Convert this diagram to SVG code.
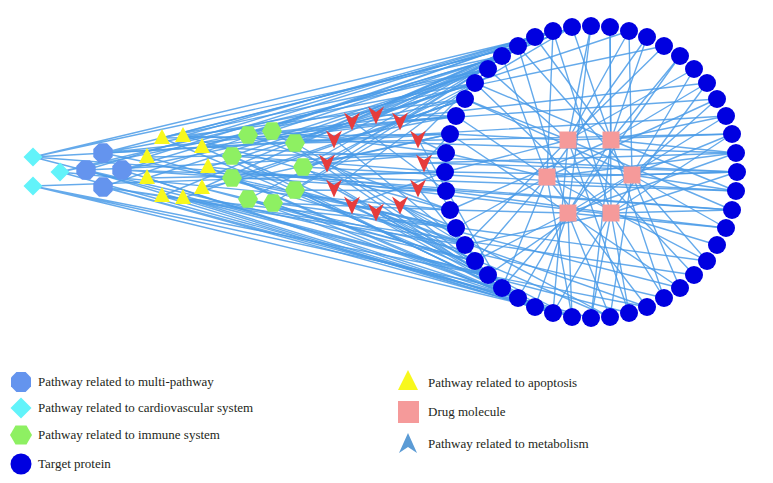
<svg xmlns="http://www.w3.org/2000/svg" xmlns:xlink="http://www.w3.org/1999/xlink" width="773" height="483" viewBox="0 0 773 483">
<style>
.e{fill:none;stroke:#4a9be8;stroke-width:1.4;stroke-opacity:0.85}
.t{fill:#0000e0}
.oct{fill:#6494ee}
.dia{fill:#62f3fa}
.hex{fill:#8ef062}
.tri{fill:#f8f81c}
.drug{fill:#f59a9a}
.chev{fill:#e63c3c}
.lg{font-family:"Liberation Serif",serif;font-size:13px;fill:#231f20}
</style>
<defs>
<polygon id="oct" points="9.7,4 4,9.7 -4,9.7 -9.7,4 -9.7,-4 -4,-9.7 4,-9.7 9.7,-4"/>
<polygon id="dia" points="0,-9.5 9.5,0 0,9.5 -9.5,0"/>
<polygon id="hex" points="10,0 5,8.7 -5,8.7 -10,0 -5,-8.7 5,-8.7"/>
<polygon id="tri" points="0,-9 8,6 -8,6"/>
<polygon id="chev" points="-8,-8.5 0,-3 8,-8.5 0,9.5"/>
<rect id="drug" x="-8.5" y="-8.5" width="17" height="17"/>
<circle id="tgt" r="9"/>
</defs>
<rect width="773" height="483" fill="#ffffff"/>
<g id="connectors">
<path class="e" d="M33 157L502 56M33 157L535 37M33 157L450 134M33 157L488 275M33 157L732 210"/>
<path class="e" d="M60 172L488 69M60 172L450 210M60 172L518 298M60 172L664 46"/>
<path class="e" d="M33 186L502 288M33 186L535 307M33 186L445 172M33 186L647 307"/>
<path class="e" d="M103 153L518 46M103 153L475 83M103 153L456 116M103 153L456 228M103 153L726 116"/>
<path class="e" d="M86 170L553 31M86 170L446 153M86 170L475 261M86 170L553 313"/>
<path class="e" d="M122 170L502 56M122 170L465 99M122 170L446 191M122 170L518 298M122 170L736 191"/>
<path class="e" d="M103 187L535 37M103 187L465 245M103 187L535 307M103 187L591 318M103 187L694 275"/>
<path class="e" d="M162 138L518 46M162 138L488 69M162 138L450 134M162 138L488 275"/>
<path class="e" d="M183 136L553 31M183 136L465 99M183 136L450 210M183 136L736 153"/>
<path class="e" d="M202 147L502 56M202 147L456 116M202 147L502 288M202 147L737 172"/>
<path class="e" d="M147 157L535 37M147 157L446 153M147 157L465 245"/>
<path class="e" d="M208 167L475 83M208 167L446 191M208 167L518 298M208 167L726 228"/>
<path class="e" d="M147 178L488 69M147 178L445 172M147 178L535 307"/>
<path class="e" d="M202 188L518 46M202 188L450 134M202 188L475 261M202 188L664 298"/>
<path class="e" d="M162 196L572 27M162 196L456 228M162 196L553 313"/>
<path class="e" d="M183 198L465 99M183 198L488 275M183 198L572 317M183 198L629 313"/>
<path class="e" d="M248 135L535 37M248 135L456 116M248 135L450 210M248 135L707 83"/>
<path class="e" d="M272 131L502 56M272 131L446 153M272 131L502 288"/>
<path class="e" d="M295 143L553 31M295 143L475 83M295 143L465 245M295 143L732 134"/>
<path class="e" d="M232 156L488 69M232 156L445 172M232 156L518 298M232 156L610 317"/>
<path class="e" d="M303 167L518 46M303 167L450 134M303 167L488 275M303 167L736 191"/>
<path class="e" d="M232 178L465 99M232 178L456 228M232 178L535 307"/>
<path class="e" d="M295 190L572 27M295 190L446 191M295 190L553 313M295 190L680 288"/>
<path class="e" d="M248 199L475 83M248 199L475 261M248 199L572 317"/>
<path class="e" d="M273 203L535 37M273 203L450 210M273 203L518 298M273 203L707 261"/>
<path class="e" d="M376 115L502 56M376 115L456 116M376 115L629 31"/>
<path class="e" d="M400 121L535 37M400 121L465 99M400 121L717 99"/>
<path class="e" d="M418 139L488 69M418 139L446 153M418 139L502 288"/>
<path class="e" d="M424 163L450 134M424 163L450 210M424 163L736 153M424 163L737 172"/>
<path class="e" d="M418 188L446 191M418 188L488 275M418 188L732 210"/>
<path class="e" d="M400 205L456 228M400 205L518 298M400 205L610 317"/>
<path class="e" d="M376 212L465 245M376 212L535 307M376 212L647 307"/>
<path class="e" d="M352 205L445 172M352 205L502 288M352 205L572 317"/>
<path class="e" d="M334 188L475 83M334 188L475 261M334 188L553 313"/>
<path class="e" d="M327 163L518 46M327 163L446 153M327 163L535 307"/>
<path class="e" d="M334 139L553 31M334 139L456 116M334 139L465 245"/>
<path class="e" d="M352 121L572 27M352 121L488 69M352 121L446 191"/>
<path class="e" d="M568 140L591 26M568 140L629 31M568 140L664 46M568 140L694 69M568 140L488 69M568 140L465 99M568 140L450 134M568 140L445 172M568 140L465 245M568 140L629 313M568 140L694 275M568 140L732 210M568 140L732 134M568 140L553 313"/>
<path class="e" d="M611 140L572 27M611 140L610 27M611 140L647 37M611 140L680 56M611 140L707 83M611 140L726 116M611 140L736 153M611 140L736 191M611 140L475 83M611 140L535 37M611 140L591 318M611 140L518 298M611 140L450 210M611 140L664 298"/>
<path class="e" d="M547 177L446 153M547 177L456 116M547 177L502 56M547 177L553 31M547 177L456 228M547 177L475 261M547 177L502 288M547 177L572 317M547 177L717 99M547 177L737 172M547 177L707 261M547 177L647 307M547 177L647 37M547 177L736 153"/>
<path class="e" d="M632 175L737 172M632 175L736 191M632 175L726 228M632 175L707 261M632 175L732 134M632 175L717 99M632 175L694 69M632 175L629 31M632 175L518 46M632 175L465 99M632 175L445 172M632 175L488 275M632 175L610 317M632 175L680 288"/>
<path class="e" d="M568 213L610 317M568 213L572 317M568 213L535 307M568 213L502 288M568 213L475 261M568 213L450 210M568 213L450 134M568 213L518 46M568 213L591 26M568 213L680 56M568 213L726 116M568 213L726 228M568 213L680 288M568 213L736 153"/>
<path class="e" d="M611 213L664 298M611 213L629 313M611 213L591 318M611 213L553 313M611 213L717 245M611 213L732 210M611 213L737 172M611 213L732 134M611 213L707 83M611 213L610 27M611 213L553 31M611 213L475 83M611 213L446 191M611 213L465 245"/>
</g>
<g id="targets">
<g id="t0"><use href="#tgt" class="t" x="737" y="172"/></g>
<g id="t1"><use href="#tgt" class="t" x="736" y="191"/></g>
<g id="t2"><use href="#tgt" class="t" x="732" y="210"/></g>
<g id="t3"><use href="#tgt" class="t" x="726" y="228"/></g>
<g id="t4"><use href="#tgt" class="t" x="717" y="245"/></g>
<g id="t5"><use href="#tgt" class="t" x="707" y="261"/></g>
<g id="t6"><use href="#tgt" class="t" x="694" y="275"/></g>
<g id="t7"><use href="#tgt" class="t" x="680" y="288"/></g>
<g id="t8"><use href="#tgt" class="t" x="664" y="298"/></g>
<g id="t9"><use href="#tgt" class="t" x="647" y="307"/></g>
<g id="t10"><use href="#tgt" class="t" x="629" y="313"/></g>
<g id="t11"><use href="#tgt" class="t" x="610" y="317"/></g>
<g id="t12"><use href="#tgt" class="t" x="591" y="318"/></g>
<g id="t13"><use href="#tgt" class="t" x="572" y="317"/></g>
<g id="t14"><use href="#tgt" class="t" x="553" y="313"/></g>
<g id="t15"><use href="#tgt" class="t" x="535" y="307"/></g>
<g id="t16"><use href="#tgt" class="t" x="518" y="298"/></g>
<g id="t17"><use href="#tgt" class="t" x="502" y="288"/></g>
<g id="t18"><use href="#tgt" class="t" x="488" y="275"/></g>
<g id="t19"><use href="#tgt" class="t" x="475" y="261"/></g>
<g id="t20"><use href="#tgt" class="t" x="465" y="245"/></g>
<g id="t21"><use href="#tgt" class="t" x="456" y="228"/></g>
<g id="t22"><use href="#tgt" class="t" x="450" y="210"/></g>
<g id="t23"><use href="#tgt" class="t" x="446" y="191"/></g>
<g id="t24"><use href="#tgt" class="t" x="445" y="172"/></g>
<g id="t25"><use href="#tgt" class="t" x="446" y="153"/></g>
<g id="t26"><use href="#tgt" class="t" x="450" y="134"/></g>
<g id="t27"><use href="#tgt" class="t" x="456" y="116"/></g>
<g id="t28"><use href="#tgt" class="t" x="465" y="99"/></g>
<g id="t29"><use href="#tgt" class="t" x="475" y="83"/></g>
<g id="t30"><use href="#tgt" class="t" x="488" y="69"/></g>
<g id="t31"><use href="#tgt" class="t" x="502" y="56"/></g>
<g id="t32"><use href="#tgt" class="t" x="518" y="46"/></g>
<g id="t33"><use href="#tgt" class="t" x="535" y="37"/></g>
<g id="t34"><use href="#tgt" class="t" x="553" y="31"/></g>
<g id="t35"><use href="#tgt" class="t" x="572" y="27"/></g>
<g id="t36"><use href="#tgt" class="t" x="591" y="26"/></g>
<g id="t37"><use href="#tgt" class="t" x="610" y="27"/></g>
<g id="t38"><use href="#tgt" class="t" x="629" y="31"/></g>
<g id="t39"><use href="#tgt" class="t" x="647" y="37"/></g>
<g id="t40"><use href="#tgt" class="t" x="664" y="46"/></g>
<g id="t41"><use href="#tgt" class="t" x="680" y="56"/></g>
<g id="t42"><use href="#tgt" class="t" x="694" y="69"/></g>
<g id="t43"><use href="#tgt" class="t" x="707" y="83"/></g>
<g id="t44"><use href="#tgt" class="t" x="717" y="99"/></g>
<g id="t45"><use href="#tgt" class="t" x="726" y="116"/></g>
<g id="t46"><use href="#tgt" class="t" x="732" y="134"/></g>
<g id="t47"><use href="#tgt" class="t" x="736" y="153"/></g>
</g>
<g id="drugs">
<g id="p1"><use href="#drug" class="drug" x="568" y="140"/></g>
<g id="p2"><use href="#drug" class="drug" x="611" y="140"/></g>
<g id="p3"><use href="#drug" class="drug" x="547" y="177"/></g>
<g id="p4"><use href="#drug" class="drug" x="632" y="175"/></g>
<g id="p5"><use href="#drug" class="drug" x="568" y="213"/></g>
<g id="p6"><use href="#drug" class="drug" x="611" y="213"/></g>
</g>
<g id="cardio">
<g id="d1"><use href="#dia" class="dia" x="33" y="157"/></g>
<g id="d2"><use href="#dia" class="dia" x="60" y="172"/></g>
<g id="d3"><use href="#dia" class="dia" x="33" y="186"/></g>
</g>
<g id="multi">
<g id="o1"><use href="#oct" class="oct" x="103" y="153"/></g>
<g id="o2"><use href="#oct" class="oct" x="86" y="170"/></g>
<g id="o3"><use href="#oct" class="oct" x="122" y="170"/></g>
<g id="o4"><use href="#oct" class="oct" x="103" y="187"/></g>
</g>
<g id="apoptosis">
<g id="a1"><use href="#tri" class="tri" x="162" y="138"/></g>
<g id="a2"><use href="#tri" class="tri" x="183" y="136"/></g>
<g id="a3"><use href="#tri" class="tri" x="202" y="147"/></g>
<g id="a4"><use href="#tri" class="tri" x="147" y="157"/></g>
<g id="a5"><use href="#tri" class="tri" x="208" y="167"/></g>
<g id="a6"><use href="#tri" class="tri" x="147" y="178"/></g>
<g id="a7"><use href="#tri" class="tri" x="202" y="188"/></g>
<g id="a8"><use href="#tri" class="tri" x="162" y="196"/></g>
<g id="a9"><use href="#tri" class="tri" x="183" y="198"/></g>
</g>
<g id="immune">
<g id="h1"><use href="#hex" class="hex" x="248" y="135"/></g>
<g id="h2"><use href="#hex" class="hex" x="272" y="131"/></g>
<g id="h3"><use href="#hex" class="hex" x="295" y="143"/></g>
<g id="h4"><use href="#hex" class="hex" x="232" y="156"/></g>
<g id="h5"><use href="#hex" class="hex" x="303" y="167"/></g>
<g id="h6"><use href="#hex" class="hex" x="232" y="178"/></g>
<g id="h7"><use href="#hex" class="hex" x="295" y="190"/></g>
<g id="h8"><use href="#hex" class="hex" x="248" y="199"/></g>
<g id="h9"><use href="#hex" class="hex" x="273" y="203"/></g>
</g>
<g id="metabolism">
<g id="v1"><use href="#chev" class="chev" x="376" y="115"/></g>
<g id="v2"><use href="#chev" class="chev" x="400" y="121"/></g>
<g id="v3"><use href="#chev" class="chev" x="418" y="139"/></g>
<g id="v4"><use href="#chev" class="chev" x="424" y="163"/></g>
<g id="v5"><use href="#chev" class="chev" x="418" y="188"/></g>
<g id="v6"><use href="#chev" class="chev" x="400" y="205"/></g>
<g id="v7"><use href="#chev" class="chev" x="376" y="212"/></g>
<g id="v8"><use href="#chev" class="chev" x="352" y="205"/></g>
<g id="v9"><use href="#chev" class="chev" x="334" y="188"/></g>
<g id="v10"><use href="#chev" class="chev" x="327" y="163"/></g>
<g id="v11"><use href="#chev" class="chev" x="334" y="139"/></g>
<g id="v12"><use href="#chev" class="chev" x="352" y="121"/></g>
</g>
<g id="legend">
<g id="lg-multi"><polygon class="oct" points="31,386.6 25.6,392 16.4,392 11,386.6 11,377.4 16.4,372 25.6,372 31,377.4"/><text class="lg" x="38" y="386">Pathway related to multi-pathway</text></g>
<g id="lg-cardio"><polygon class="dia" points="21,397.5 31.5,408 21,418.5 10.5,408"/><text class="lg" x="38" y="412">Pathway related to cardiovascular system</text></g>
<g id="lg-immune"><polygon class="hex" points="32,435 26.5,444.5 15.5,444.5 10,435 15.5,425.5 26.5,425.5"/><text class="lg" x="38" y="439">Pathway related to immune system</text></g>
<g id="lg-target"><circle class="t" cx="21" cy="464" r="10.5"/><text class="lg" x="38" y="468">Target protein</text></g>
<g id="lg-apop"><polygon class="tri" points="408,370 418,390 398,390"/><text class="lg" x="428" y="387">Pathway related to apoptosis</text></g>
<g id="lg-drug"><rect class="drug" x="398" y="401" width="21" height="22"/><text class="lg" x="428" y="416">Drug molecule</text></g>
<g id="lg-metab"><polygon points="408,433 417,453 408,447 399,453" fill="#5b9bd5"/><text class="lg" x="428" y="448">Pathway related to metabolism</text></g>
</g>
</svg>
